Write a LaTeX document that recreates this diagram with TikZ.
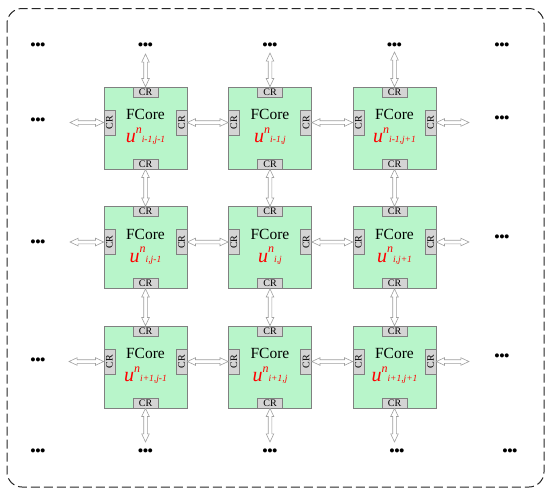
\documentclass[tikz,border=0pt]{standalone}
\usepackage{fontspec}
\setmainfont{Liberation Serif}
\newfontfamily\dotfont{Liberation Sans}
\usetikzlibrary{shapes.arrows,calc}
\definecolor{coregreen}{RGB}{184,245,202}
\definecolor{crgray}{RGB}{212,212,212}
\definecolor{edgegray}{RGB}{128,128,128}
\definecolor{arrgray}{RGB}{160,160,160}
\newcommand\ulab[1]{{\fontsize{20}{20}\selectfont\itshape u}\raisebox{9.4pt}{\fontsize{12}{12}\selectfont\itshape n}{\fontsize{9.5}{9.5}\selectfont\itshape #1}}
\newcommand\biarrow[2]{\path let \p1=(#1), \p2=(#2), \n1={veclen(\x2-\x1,\y2-\y1)} in (\p1) -- (\p2) node[dblarrow, midway, sloped, minimum height=\n1] {};}
\tikzset{
  corebox/.style={draw=edgegray, fill=coregreen, line width=0.7pt, minimum width=83pt, minimum height=82pt, inner sep=0pt},
  crh/.style={draw=edgegray, fill=crgray, line width=0.6pt, minimum width=25pt, minimum height=10pt, inner sep=0pt, font=\fontsize{10}{10}\selectfont},
  crv/.style={draw=edgegray, fill=crgray, line width=0.6pt, minimum width=11pt, minimum height=25pt, inner sep=0pt, font=\fontsize{10}{10}\selectfont},
  fcore/.style={anchor=base, inner sep=0pt, font=\fontsize{15.5}{15.5}\selectfont},
  ulabel/.style={anchor=base, inner sep=0pt, text=red},
  dots/.style={inner sep=0pt, font=\dotfont\bfseries\fontsize{14}{14}\selectfont},
  dblarrow/.style={double arrow, draw=arrgray, fill=white, line width=0.6pt, inner xsep=0pt, inner ysep=1.5pt, double arrow head extend=2pt, double arrow tip angle=50},
  frame/.style={draw=black!85, line width=1pt, dash pattern=on 9pt off 4pt, rounded corners=15pt}
}
\begin{document}
\begin{tikzpicture}[x=1pt,y=-1pt]
\useasboundingbox (0,0) rectangle (550,496);
\draw[frame] (7,8.5) rectangle (544,487);
% cores
\foreach \r/\y in {1/128,2/247.5,3/367}{
  \foreach \c/\x in {1/145.5,2/270,3/394.5}{
    \node[corebox] (c\r\c) at (\x,\y) {};
    \node[crh, anchor=north] (c\r\c-t) at (c\r\c.north) {CR};
    \node[crh, anchor=south] (c\r\c-b) at (c\r\c.south) {CR};
    \node[crv, anchor=west] (c\r\c-l) at ([yshift=5.5pt]c\r\c.west) {\rotatebox{90}{CR}};
    \node[crv, anchor=east] (c\r\c-r) at ([yshift=5.5pt]c\r\c.east) {\rotatebox{90}{CR}};
    \node[fcore] (f\r\c) at ([yshift=-33pt]c\r\c.north) {FCore};
  }
}
\node[ulabel] (u11) at ([yshift=-56pt]c11.north) {\ulab{i-1,j-1}};
\node[ulabel] (u12) at ([yshift=-56pt]c12.north) {\ulab{i-1,j}};
\node[ulabel] (u13) at ([yshift=-56pt]c13.north) {\ulab{i-1,j+1}};
\node[ulabel] (u21) at ([yshift=-56pt]c21.north) {\ulab{i,j-1}};
\node[ulabel] (u22) at ([yshift=-56pt]c22.north) {\ulab{i,j}};
\node[ulabel] (u23) at ([yshift=-56pt]c23.north) {\ulab{i,j+1}};
\node[ulabel] (u31) at ([yshift=-56pt]c31.north) {\ulab{i+1,j-1}};
\node[ulabel] (u32) at ([yshift=-56pt]c32.north) {\ulab{i+1,j}};
\node[ulabel] (u33) at ([yshift=-56pt]c33.north) {\ulab{i+1,j+1}};
% dots
\node[dots] (d00) at (38,46) {•••};
\node[dots] (d01) at (145.5,46) {•••};
\node[dots] (d02) at (270,46) {•••};
\node[dots] (d03) at (394.5,46) {•••};
\node[dots] (d04) at (502,46) {•••};
\node[dots] (d10) at (38,121) {•••};
\node[dots] (d14) at (502,119) {•••};
\node[dots] (d20) at (38,243) {•••};
\node[dots] (d24) at (502,238) {•••};
\node[dots] (d30) at (38,361) {•••};
\node[dots] (d34) at (502,357) {•••};
\node[dots] (d40) at (38,452.5) {•••};
\node[dots] (d41) at (145.5,452.5) {•••};
\node[dots] (d42) at (270,452.5) {•••};
\node[dots] (d43) at (397,452.5) {•••};
\node[dots] (d44) at (510,452.5) {•••};
% free ends
\coordinate (t1) at (145.5,54);
\coordinate (t2) at (270,53);
\coordinate (t3) at (394.5,52);
\coordinate (b1) at (145.5,442);
\coordinate (b2) at (270,442);
\coordinate (b3) at (394.5,442);
\coordinate (l1) at (70,122.5);
\coordinate (l2) at (70,242);
\coordinate (l3) at (69,361.5);
\coordinate (r1) at (469,122.5);
\coordinate (r2) at (469,242);
\coordinate (r3) at (469,361.5);
% arrows
\foreach \c in {1,2,3}{
  \biarrow{t\c}{c1\c-t.north}
  \biarrow{c1\c-b.south}{c2\c-t.north}
  \biarrow{c2\c-b.south}{c3\c-t.north}
  \biarrow{c3\c-b.south}{b\c}
}
\foreach \r in {1,2,3}{
  \biarrow{l\r}{c\r1-l.west}
  \biarrow{c\r1-r.east}{c\r2-l.west}
  \biarrow{c\r2-r.east}{c\r3-l.west}
  \biarrow{c\r3-r.east}{r\r}
}
\end{tikzpicture}
\end{document}
